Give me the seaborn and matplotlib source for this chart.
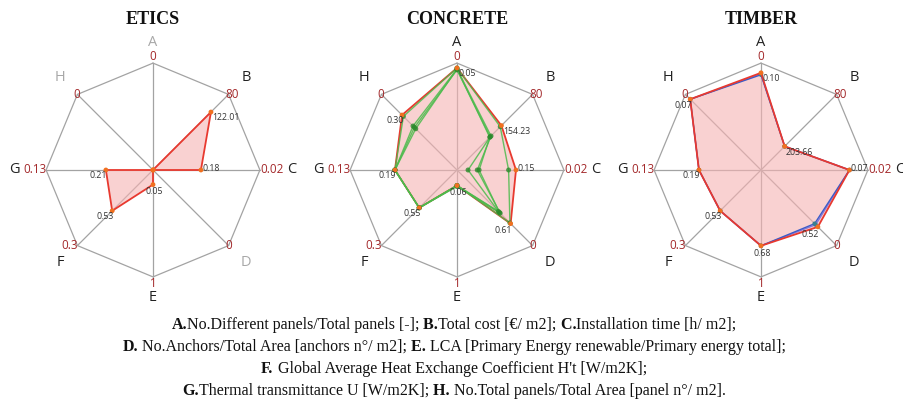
import numpy as np
import pandas as pd
import matplotlib
matplotlib.use("Agg")
import matplotlib.pyplot as plt
import seaborn as sns

# ---------------- data ----------------
axis_names = ["A", "B", "C", "D", "E", "F", "G", "H"]
rim_labels = ["0", "80", "0.02", "0", "1", "0.3", "0.13", "0"]
rim_values = [0, 80, 0.02, 0, 1, 0.3, 0.13, 0]
center_values = [1.1, 260, 0.31, 2.1, -0.1, 0.8, 0.273, 1.1]

titles = ["ETICS", "CONCRETE", "TIMBER"]

etics = [None, 122.01, 0.18, None, 0.05, 0.53, 0.21, None]
etics_active = [False, True, True, False, True, True, True, False]
concrete = [0.05, 154.23, 0.15, 0.61, 0.06, 0.55, 0.19, 0.30]
timber = [0.10, 203.66, 0.07, 0.52, 0.68, 0.53, 0.19, 0.07]

concrete_v1 = [0.05, 157, 0.17, 0.63, 0.06, 0.55, 0.19, 0.32]
concrete_v2 = [0.06, 182, 0.25, 0.92, 0.06, 0.55, 0.19, 0.50]
concrete_v3 = [0.06, 179, 0.255, 0.90, 0.07, 0.55, 0.19, 0.46]
concrete_v4 = [0.07, 181, 0.28, 0.95, 0.06, 0.55, 0.19, 0.48]

timber_v1 = [0.12, 203.66, 0.07, 0.61, 0.68, 0.53, 0.19, 0.07]
timber_v2 = [0.11, 203.66, 0.07, 0.58, 0.68, 0.53, 0.19, 0.07]

caption_lines = [
    [("A.", True), ("No.Different panels/Total panels [-];", False), (" B.", True),
     ("Total cost [\u20ac/ m2];", False), (" C.", True), ("Installation time [h/ m2];", False)],
    [("D.", True), (" No.Anchors/Total Area [anchors n\u00b0/ m2];", False), (" E.", True),
     (" LCA [Primary Energy renewable/Primary energy total];", False)],
    [("F.", True), (" Global Average Heat Exchange Coefficient H't [W/m2K];", False)],
    [("G.", True), ("Thermal transmittance U [W/m2K];", False), (" H.", True),
     (" No.Total panels/Total Area [panel n\u00b0/ m2].", False)],
]

# ---------------- style ----------------
sns.set_theme(style="white")
plt.rcParams["font.family"] = ["Open Sans", "DejaVu Sans"]

W, H = 904, 409
fig = plt.figure(figsize=(W / 100, H / 100), dpi=100)
fig.patch.set_facecolor("white")

angles = np.deg2rad([90, 45, 0, -45, -90, -135, 180, 135])
rim = np.array(rim_values, dtype=float)
cen = np.array(center_values, dtype=float)


def frac(vals):
    out = []
    for i, v in enumerate(vals):
        if v is None:
            out.append(0.0)
        else:
            out.append((cen[i] - v) / (cen[i] - rim[i]))
    return np.array(out)


def poly_df(vals):
    f = frac(vals)
    x = f * np.cos(angles)
    y = f * np.sin(angles)
    x = np.append(x, x[0])
    y = np.append(y, y[0])
    return pd.DataFrame({"x": x, "y": y, "order": np.arange(len(x))})


grid_col = "#a3a3a3"
rim_col = "#a3282a"
red = "#e8392f"
orange = "#f07020"
green = "#4cbb4c"
dgreen = "#2c8a2c"

# label placement per axis: (ha, va, dx, dy) in points
value_style = {
    0: ("left", "top", 1, -1),
    1: ("left", "top", 1, -1),
    2: ("left", "bottom", 1, -2),
    3: ("right", "top", 1, -2),
    4: ("center", "top", 1, -2),
    5: ("right", "top", 1, -1),
    6: ("right", "top", 1, -1),
    7: ("right", "top", 1, -1),
}
rim_style = {
    0: ("center", "bottom", 0, 0),
    1: ("left", "center", -2, 0),
    2: ("left", "center", 0, 0),
    3: ("left", "center", -2, 0),
    4: ("center", "top", 0, 0),
    5: ("right", "center", 0, 0),
    6: ("right", "center", 0, 0),
    7: ("right", "center", 2, 0),
}
letter_r = [1.19, 1.23, 1.30, 1.23, 1.19, 1.23, 1.30, 1.23]

centers_px = [153, 457, 761]
cy = 170
half = 155
datasets = [etics, concrete, timber]
variants = [[], [concrete_v1, concrete_v2, concrete_v3, concrete_v4], [timber_v2, timber_v1]]
timber_cols = ["#8878d8", "#3c5cc8"]

for k, cx in enumerate(centers_px):
    ax = fig.add_axes([(cx - half) / W, (H - cy - half) / H, 2 * half / W, 2 * half / H])
    lim = 1.45
    ax.set_xlim(-lim, lim)
    ax.set_ylim(-lim, lim)
    ax.axis("off")

    # grid
    ox = np.append(np.cos(angles), np.cos(angles[0]))
    oy = np.append(np.sin(angles), np.sin(angles[0]))
    ax.plot(ox, oy, color=grid_col, lw=0.9, zorder=1)
    for a in angles:
        ax.plot([0, np.cos(a)], [0, np.sin(a)], color=grid_col, lw=0.9, zorder=1)

    vals = datasets[k]
    df = poly_df(vals)
    ax.fill(df["x"], df["y"], color="#f6b3b3", alpha=0.6, lw=0, zorder=2)

    # variants
    for j, vv in enumerate(variants[k]):
        dv = poly_df(vv)
        if k == 1:
            sns.lineplot(data=dv, x="x", y="y", sort=False, estimator=None, color=green,
                         lw=1.0, ax=ax, zorder=4, alpha=0.85)
            sns.scatterplot(data=dv.iloc[:-1], x="x", y="y", color=dgreen, s=13,
                            edgecolor="none", ax=ax, zorder=5, alpha=0.8)
        else:
            sns.lineplot(data=dv, x="x", y="y", sort=False, estimator=None, color=timber_cols[j],
                         lw=1.0, ax=ax, zorder=3)
            sns.scatterplot(data=dv.iloc[:-1], x="x", y="y", color="#3a7f8f", s=10,
                            edgecolor="none", ax=ax, zorder=3)

    sns.lineplot(data=df, x="x", y="y", sort=False, estimator=None, color=red, lw=1.3,
                 ax=ax, zorder=3 if k == 1 else 4)
    sns.scatterplot(data=df.iloc[:-1], x="x", y="y", color=orange, s=12, edgecolor="none",
                    ax=ax, zorder=6)

    # value labels
    f = frac(vals)
    for i, v in enumerate(vals):
        if v is None:
            continue
        ha, va, dx, dy = value_style[i]
        ax.annotate(f"{v:.2f}", (f[i] * np.cos(angles[i]), f[i] * np.sin(angles[i])),
                    xytext=(dx, dy), textcoords="offset points", ha=ha, va=va,
                    fontsize=6.3, color="#333333", zorder=7)

    # rim labels and axis letters
    for i, name in enumerate(axis_names):
        active = etics_active[i] if k == 0 else True
        ha, va, dx, dy = rim_style[i]
        ax.annotate(rim_labels[i], (np.cos(angles[i]), np.sin(angles[i])), xytext=(dx, dy),
                    textcoords="offset points", ha=ha, va=va, fontsize=8.4, color=rim_col,
                    zorder=7)
        ax.text(letter_r[i] * np.cos(angles[i]), letter_r[i] * np.sin(angles[i]), name,
                ha="center", va="center", fontsize=10.5,
                color="#222222" if active else "#a8a8a8")

    fig.text(cx / W, 1 - 20 / H, titles[k], family="Liberation Serif", weight="bold",
             fontsize=13, ha="center", va="center", color="#111111")

# ---------------- caption ----------------
renderer = fig.canvas.get_renderer()
line_y = [329, 351, 373, 395]
for yy, segs in zip(line_y, caption_lines):
    texts = []
    widths = []
    for s, b in segs:
        t = fig.text(0, 1 - yy / H, s, family="Liberation Serif",
                     weight="bold" if b else "normal", fontsize=11.5, ha="left",
                     va="baseline", color="#111111")
        texts.append(t)
        widths.append(t.get_window_extent(renderer).width)
    total = sum(widths)
    x0 = (W / 2) - total / 2 + 2
    for t, w in zip(texts, widths):
        t.set_x(x0 / W)
        x0 += w

fig.savefig("out.png", dpi=100, facecolor="white")
